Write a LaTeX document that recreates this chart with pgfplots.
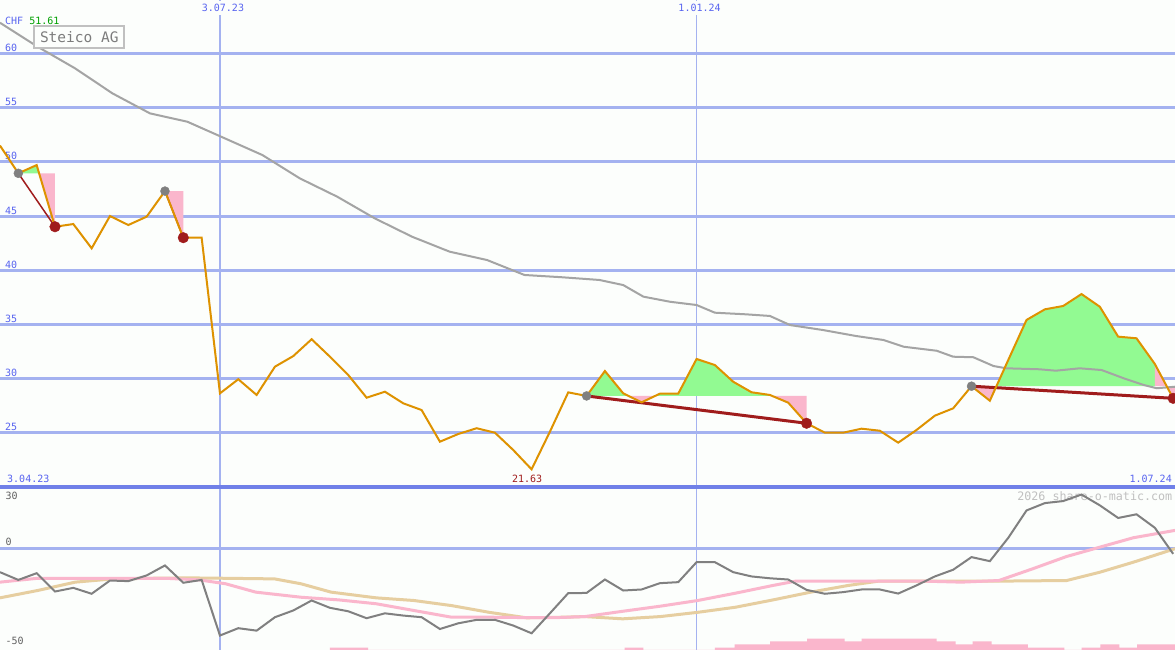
\documentclass[border=0pt]{standalone}
\usepackage{pgfplots}
\pgfplotsset{compat=1.18}
\usepackage{fontspec}
\setmainfont{DejaVu Sans Mono}

\definecolor{bg}{RGB}{252,254,252}
\definecolor{gridblue}{RGB}{164,178,240}
\definecolor{borderblue}{RGB}{112,128,232}
\definecolor{tickblue}{RGB}{88,100,240}
\definecolor{price}{RGB}{222,146,0}
\definecolor{ma}{RGB}{164,164,164}
\definecolor{upfill}{RGB}{146,250,146}
\definecolor{downfill}{RGB}{250,182,204}
\definecolor{trend}{RGB}{160,28,28}
\definecolor{dot}{RGB}{128,128,128}
\definecolor{osc}{RGB}{128,128,128}
\definecolor{slow}{RGB}{230,206,160}
\definecolor{boxgray}{RGB}{192,192,192}
\definecolor{namegray}{RGB}{124,124,124}
\definecolor{chfgreen}{RGB}{0,160,0}
\definecolor{lowlabel}{RGB}{96,96,96}

\newcommand\ticks{\fontsize{10pt}{12pt}\selectfont}

\pgfplotsset{
  panel/.style={
    scale only axis, width=1175pt, anchor=south west,
    xmin=0, xmax=64.1,
    axis background/.style={fill=bg},
    axis line style={draw=none},
    major tick length=0pt, tick style={draw=none},
    xtick={12,38}, xmajorgrids, ymajorgrids,
    y grid style={line width=3pt, color=gridblue},
    x grid style={line width=1.5pt, color=gridblue},
    /pgf/number format/assume math mode=true,
  },
}

\begin{document}
\begin{tikzpicture}
\useasboundingbox (0,0) rectangle (1175pt,650pt);

% price panel
\begin{axis}[panel, at={(0pt,163pt)}, height=487pt,
  ymin=20, ymax=64.93,
  ytick={25,30,...,60},
  yticklabel style={anchor=base west, xshift=5pt, yshift=2pt, inner sep=0pt,
    text=tickblue, font=\ticks},
  xticklabels={3.07.23,1.01.24}, xticklabel pos=upper,
  xticklabel style={anchor=north, xshift=3pt, yshift=-1pt, fill=bg,
    inner xsep=1pt, inner ysep=3pt, text=tickblue, font=\ticks},
]
% areas between price and entry level
\addplot[fill=upfill, draw=none] coordinates {(1,48.94) (2,49.70) (2.13,48.94)};
\addplot[fill=downfill, draw=none] coordinates {(2.13,48.94) (3,44.01) (3,48.94)};
\addplot[fill=downfill, draw=none] coordinates {(9,47.3) (10,43.0) (10,47.3)};
\addplot[fill=upfill, draw=none] coordinates {(32,28.4) (33,30.70) (34,28.64) (34.29,28.4)};
\addplot[fill=downfill, draw=none] coordinates {(34.29,28.4) (35,27.81) (35.74,28.4)};
\addplot[fill=upfill, draw=none] coordinates {(35.74,28.4) (36,28.61) (37,28.61) (38,31.81)
  (39,31.25) (40,29.71) (41,28.74) (42,28.49) (42.13,28.4)};
\addplot[fill=downfill, draw=none] coordinates {(42.13,28.4) (43,27.78) (44,25.88) (44,28.4)};
\addplot[fill=downfill, draw=none] coordinates {(53,29.3) (54,27.96) (54.36,29.3)};
\addplot[fill=upfill, draw=none] coordinates {(54.36,29.3) (55,31.70) (56,35.41) (57,36.39)
  (58,36.70) (59,37.80) (60,36.63) (61,33.87) (62,33.72) (63,31.35) (63,29.3)};
\addplot[fill=downfill, draw=none] coordinates {(63,29.3) (63,31.35) (63.65,29.3) (64,28.18) (64.1,28.1) (64.1,29.3)};

% moving average
\addplot[ma, line width=2pt] coordinates {
  (0,62.83) (2.05,60.62) (4.09,58.63) (6.13,56.32) (8.18,54.47) (10.22,53.70)
  (12.26,52.17) (14.31,50.63) (16.35,48.48) (18.4,46.78) (20.44,44.79)
  (22.48,43.09) (24.53,41.71) (26.57,40.94) (28.61,39.56) (30.66,39.35)
  (32.7,39.10) (34.0,38.63) (35.1,37.56) (36.55,37.09) (38,36.79) (39,36.08)
  (40.7,35.93) (42,35.78) (43.1,34.94) (44.9,34.48) (46.7,33.93) (48.2,33.56)
  (49.3,32.94) (51.1,32.57) (52,32.02) (53.1,31.97) (54.2,31.16) (54.9,30.95)
  (56.7,30.86) (57.6,30.73) (58.9,30.95) (60.1,30.79) (61.3,30.03) (62.4,29.41)
  (63.1,29.11) (64.1,29.25)};

% trend lines
\addplot[trend, line width=1.5pt] coordinates {(1,48.94) (3,44.01)};
\addplot[trend, line width=1.5pt] coordinates {(9,47.3) (10,43.0)};
\addplot[trend, line width=3pt] coordinates {(32,28.4) (44,25.88)};
\addplot[trend, line width=3pt] coordinates {(53,29.3) (64,28.18)};

% entry / exit dots
\addplot[only marks, mark=*, mark size=4.5pt, dot] coordinates {(1,48.94) (9,47.3) (32,28.4) (53,29.3)};
\addplot[only marks, mark=*, mark size=5.3pt, trend] coordinates {(3,44.01) (10,43.0) (44,25.88) (64,28.18)};

% weekly price
\addplot[price, line width=2pt] coordinates {
  (0,51.5) (1,48.94) (2,49.70) (3,44.01) (4,44.26) (5,42.02) (6,45.00) (7,44.17)
  (8,44.94) (9,47.3) (10,43.00) (11,43.00) (12,28.64) (13,29.94) (14,28.49)
  (15,31.10) (16,32.08) (17,33.63) (18,32.02) (19,30.33) (20,28.24) (21,28.79)
  (22,27.72) (23,27.10) (24,24.18) (25,24.89) (26,25.42) (27,25.01) (28,23.41)
  (29,21.63) (30,25.10) (31,28.73) (32,28.40) (33,30.70) (34,28.64) (35,27.81)
  (36,28.61) (37,28.61) (38,31.81) (39,31.25) (40,29.71) (41,28.74) (42,28.49)
  (43,27.78) (44,25.88) (45,25.01) (46,25.01) (47,25.38) (48,25.19) (49,24.09)
  (50,25.26) (51,26.58) (52,27.26) (53,29.30) (54,27.96) (55,31.70) (56,35.41)
  (57,36.39) (58,36.70) (59,37.80) (60,36.63) (61,33.87) (62,33.72) (63,31.35)
  (64,28.18)};

\draw[line width=3pt, borderblue] (rel axis cs:0,0) -- (rel axis cs:1,0);

\node[anchor=base west, inner sep=0pt, font=\ticks, xshift=5pt, yshift=-25pt]
  at (rel axis cs:0,1) {\textcolor{tickblue}{CHF} \textcolor{chfgreen}{51.61}};
\node[anchor=north west, draw=boxgray, line width=2pt, fill=bg, minimum width=90pt,
  minimum height=22pt, inner sep=0pt, text=namegray,
  font=\fontsize{14.5pt}{16pt}\selectfont, xshift=33.3pt, yshift=-25.3pt]
  at (rel axis cs:0,1) {Steico AG};
\node[anchor=base west, inner sep=0pt, font=\ticks, text=tickblue, xshift=7pt, yshift=4pt]
  at (rel axis cs:0,0) {3.04.23};
\node[anchor=base east, inner sep=0pt, font=\ticks, text=tickblue, xshift=-3pt, yshift=4pt]
  at (rel axis cs:1,0) {1.07.24};
\node[anchor=base, inner sep=0pt, font=\ticks, text=trend, xshift=-4.5pt, yshift=4pt]
  at (axis cs:29,20) {21.63};
\end{axis}

% indicator panel
\begin{axis}[panel, at={(0pt,0pt)}, height=163pt,
  ymin=-50, ymax=30,
  ytick={0}, xticklabels={},
  yticklabel style={anchor=base west, xshift=5.5pt, yshift=2.7pt, inner sep=0pt,
    text=lowlabel, font=\ticks},
]
\node[anchor=base east, inner sep=0pt, text=boxgray,
  font=\fontsize{11.7pt}{13pt}\selectfont, xshift=-2.5pt, yshift=-13pt]
  at (rel axis cs:1,1) {2026 share-o-matic.com};

\addplot[const plot, fill=downfill, draw=none] coordinates {
  (18,-50) (18,-48.8) (20.08,-50) (34.07,-50) (34.07,-48.8) (35.1,-50) (39,-50)
  (39,-48.8) (40.07,-47.3) (42.01,-45.8) (44.03,-44.4) (46.08,-45.8) (47,-44.4)
  (51.1,-45.8) (52.13,-47.3) (53.06,-45.8) (54.1,-47.3) (56.07,-48.8) (58.06,-50)
  (59,-50) (59,-48.8) (60.03,-47.3) (61.06,-48.8) (62.03,-47.3) (64.1,-47.3) (64.1,-50)};

\addplot[slow, line width=3pt] coordinates {
  (0,-24.4) (2.05,-20.8) (4.1,-16.7) (6.16,-15.1) (8.21,-14.8) (10.26,-14.6)
  (12.31,-14.8) (14.98,-15.1) (16.42,-17.5) (18.06,-21.6) (20.52,-24.4)
  (22.57,-25.7) (24.63,-28.2) (26.68,-31.5) (28.73,-34.2) (30.79,-33.9)
  (31.91,-33.6) (33.97,-34.7) (36.02,-33.6) (38.07,-31.5) (40.13,-29.0)
  (42.18,-25.4) (44.23,-21.6) (46.29,-18.3) (47.93,-16.2) (54.49,-16.2)
  (58.19,-15.9) (60.01,-11.8) (61.83,-6.9) (64.1,-0.3)};

\addplot[downfill, line width=3pt] coordinates {
  (0,-16.7) (2.05,-14.8) (9.03,-14.8) (10.88,-15.6) (12.31,-17.5) (13.95,-21.6)
  (16.42,-24.1) (18.47,-25.4) (20.52,-27.3) (22.57,-30.6) (24.63,-33.9)
  (26.68,-33.9) (28.73,-34.1) (30.38,-34.1) (31.91,-33.6) (33.97,-31.0)
  (36.02,-28.5) (38.07,-25.7) (40.13,-22.1) (42.18,-18.3) (43.41,-16.2)
  (46.29,-16.2) (50.39,-16.2) (52.44,-16.7) (54.49,-15.9) (56.35,-10.1)
  (58.19,-4.1) (60.01,0.5) (61.83,5.1) (64.1,8.7)};

\addplot[osc, line width=2pt] coordinates {
  (0,-11.8) (1,-15.6) (2,-12.3) (3,-21.3) (4,-19.5) (5,-22.4) (6,-15.9) (7,-16.2)
  (8,-13.4) (9,-8.5) (10,-17.0) (11,-15.6) (12,-42.9) (13,-39.3) (14,-40.5)
  (15,-33.9) (16,-30.6) (17,-25.7) (18,-29.3) (19,-31.0) (20,-34.4) (21,-32.0)
  (22,-33.1) (23,-33.9) (24,-39.7) (25,-36.9) (26,-35.2) (27,-35.2) (28,-38.0)
  (29,-41.8) (30,-32.0) (31,-22.1) (32,-22.0) (33,-15.4) (34,-20.8) (35,-20.3)
  (36,-17.2) (37,-16.7) (38,-6.9) (39,-6.9) (40,-11.8) (41,-13.9) (42,-14.8)
  (43,-15.4) (44,-20.5) (45,-22.4) (46,-21.6) (47,-20.3) (48,-20.3) (49,-22.3)
  (50,-18.3) (51,-13.9) (52,-10.6) (53,-4.4) (54,-6.4) (55,5.0) (56,18.5)
  (57,22.1) (58,23.1) (59,26.3) (60,21.0) (61,14.8) (62,16.6) (63,10.0) (64,-2.8)};

\draw[line width=3pt, borderblue] (rel axis cs:0,1) -- (rel axis cs:1,1);
\node[anchor=base west, inner sep=0pt, font=\ticks, text=lowlabel, xshift=5.5pt, yshift=-12.3pt]
  at (rel axis cs:0,1) {30};
\node[anchor=base west, inner sep=0pt, font=\ticks, text=lowlabel, xshift=5.5pt, yshift=5pt]
  at (rel axis cs:0,0) {-50};
\end{axis}
\end{tikzpicture}
\end{document}
